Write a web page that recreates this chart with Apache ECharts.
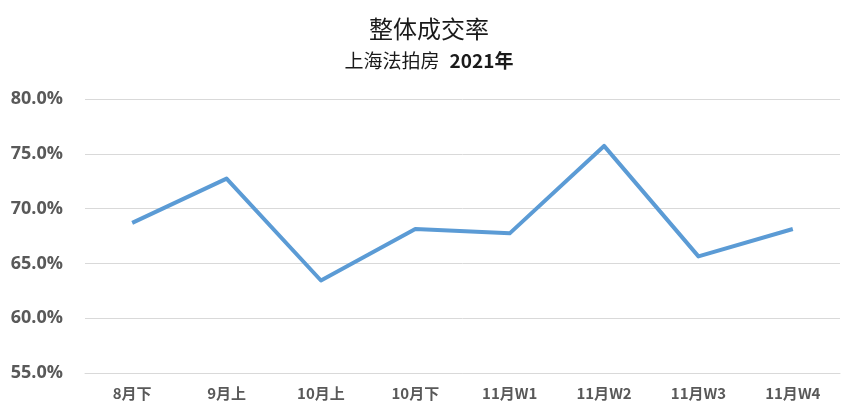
<!DOCTYPE html>
<html><head><meta charset="utf-8">
<script src="https://cdn.jsdelivr.net/npm/echarts@6/dist/echarts.min.js"></script>
<style>html,body{margin:0;padding:0;background:#fff}#c{width:858px;height:416px}</style>
</head><body><div id="c"></div>
<script>
const categories = ['8月下','9月上','10月上','10月下','11月W1','11月W2','11月W3','11月W4'];
const rates = [68.7, 72.74, 63.44, 68.14, 67.74, 75.72, 65.64, 68.14];
const titleText = '整体成交率';
const subtitleA = '上海法拍房';
const subtitleB = '2021年';

const chart = echarts.init(document.getElementById('c'));
const font = '"Noto Sans CJK SC", "Open Sans", sans-serif';
chart.setOption({
  animation: false,
  title: [{
    text: titleText, left: 'center', top: 12,
    textStyle: { fontSize: 24, fontWeight: 'normal', color: '#1a1a1a', fontFamily: font }
  }, {
    text: '{a|' + subtitleA + '}  {b|' + subtitleB + '}', left: 'center', top: 46,
    textStyle: { rich: {
      a: { fontSize: 19, fontWeight: 'normal', color: '#1a1a1a', fontFamily: font },
      b: { fontSize: 19, fontWeight: 'bold', color: '#1a1a1a', fontFamily: font }
    } }
  }],
  grid: { left: 85, right: 18, top: 99, bottom: 43 },
  xAxis: {
    type: 'category', data: categories, boundaryGap: true,
    axisLine: { show: true, lineStyle: { color: '#d9d9d9', width: 1 } },
    axisTick: { show: false },
    axisLabel: { color: '#595959', fontSize: 15, fontWeight: 'bold', fontFamily: font, margin: 13 }
  },
  yAxis: {
    type: 'value', min: 55, max: 80, interval: 5,
    axisLine: { show: false }, axisTick: { show: false },
    splitLine: { lineStyle: { color: '#d9d9d9', width: 1 } },
    axisLabel: { color: '#595959', fontSize: 18, fontWeight: 'bold', fontFamily: '"Open Sans", sans-serif', margin: 22,
      formatter: v => v.toFixed(1) + '%' }
  },
  series: [{
    type: 'line', data: rates, showSymbol: false, symbol: 'none',
    lineStyle: { color: '#5b9bd5', width: 4, join: 'round' }
  }]
});
</script></body></html>
